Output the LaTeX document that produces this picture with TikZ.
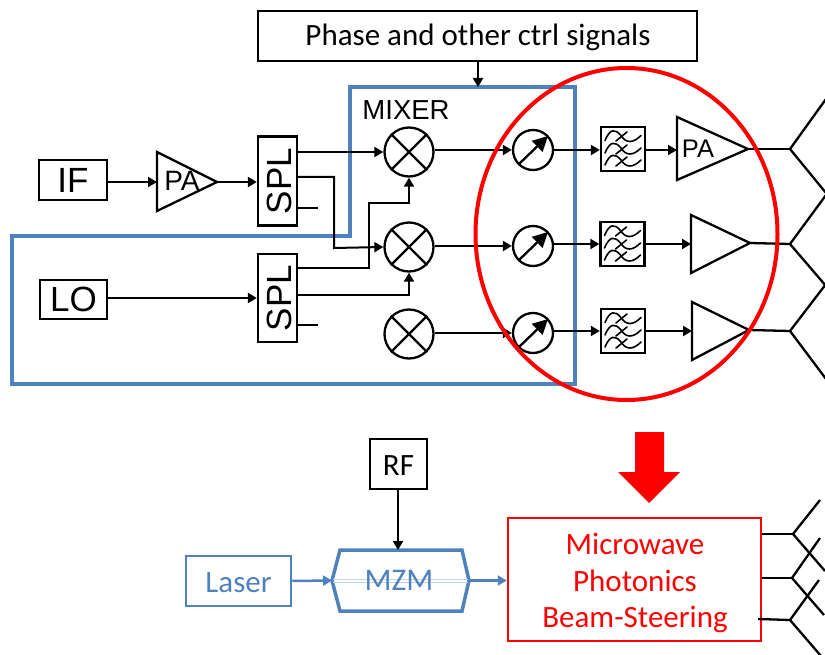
\documentclass[tikz,border=0pt]{standalone}
\usepackage{fontspec}
\setmainfont{Carlito}
\newfontfamily\arialf{Liberation Sans}
\usetikzlibrary{arrows.meta}
\definecolor{bl}{RGB}{79,129,189}
\definecolor{pale}{RGB}{190,210,232}
\newcommand{\fsz}[1]{\fontsize{#1}{#1}\selectfont}
\tikzset{x=1pt,y=-1pt,
 boxk/.style={draw=black,line width=2.3pt,inner sep=0pt,align=center},
 lab/.style={inner sep=0pt,align=center},
 blk/.style={draw=black,line width=2.3pt},
 thn/.style={draw=black,line width=2pt},
 arr/.style={thn,-{Triangle[length=9pt,width=10pt]}},
 barr/.style={draw=bl,line width=2.5pt,-{Triangle[length=9pt,width=10pt]}},
 mix/.style={circle,draw=black,line width=2.3pt,minimum size=49pt,inner sep=0pt},
 pha/.style={circle,draw=black,line width=2.3pt,minimum size=40pt,inner sep=0pt},
 filt/.style={draw=black,line width=2.3pt,minimum width=44pt,minimum height=44pt,inner sep=0pt},
 wave/.style={draw=black,line width=1.6pt,line cap=round},
}
\begin{document}
\begin{tikzpicture}
\useasboundingbox (0,0) rectangle (825,655);
\clip (0,0) rectangle (825,655);
% blue outline
\draw[draw=bl,line width=3.5pt,line join=miter] (350,87) -- (575,87) -- (575,384) -- (12,384) -- (12,236) -- (350,236) -- cycle;
% top box
\node[boxk,minimum width=439pt,minimum height=50pt] (ctrl) at (477.5,36) {};
\node[lab] (ctrll) at (478,37) {\fsz{31}Phase and other ctrl signals};
\coordinate (blue) at (478,87);
\draw[arr] (ctrl.south -| blue) -- (blue);
% inputs
\node[boxk,minimum width=68pt,minimum height=40pt] (if) at (73,180) {\arialf\fsz{35}IF};
\node[boxk,minimum width=67pt,minimum height=39pt] (lo) at (73.5,299.5) {\arialf\fsz{35}LO};
\node[boxk,minimum width=39pt,minimum height=89pt] (spa) at (277.5,181) {};
\node[boxk,minimum width=39pt,minimum height=88pt] (spb) at (277.5,298) {};
\node[lab] (spal) at (279,181) {\rotatebox{90}{\arialf\fsz{35}SPL}};
\node[lab] (spbl) at (279,298) {\rotatebox{90}{\arialf\fsz{35}SPL}};
\coordinate (pa0a) at (157,182);
\draw[blk,line join=miter] (157,152) -- (217,182) -- (157,211) -- cycle;
\node[lab] (pa0l) at (182,181) {\arialf\fsz{28}PA};
\coordinate (pa0b) at (217,182);
\draw[arr] (if.east |- pa0a) -- (pa0a);
\draw[arr] (pa0b) -- (spa.west |- pa0b);
\draw[arr] (lo.east |- spb) -- (spb.west);
% mixers
\node[mix] (ma) at (409,152) {};
\node[mix] (mb) at (409,247) {};
\node[mix] (mc) at (409,334) {};
\foreach \m in {ma,mb,mc}{
 \draw[blk] (\m.45) -- (\m.225);
 \draw[blk] (\m.135) -- (\m.315);
}
\node[lab] (mlab) at (406,110) {\arialf\fsz{27.5}MIXER};
% splitter outputs
\coordinate (sa1) at (297,152);
\coordinate (sa2) at (297,177);
\coordinate (sa3) at (297,208);
\coordinate (sa3e) at (318,208);
\coordinate (sb1) at (297,268);
\coordinate (sb2) at (297,295);
\coordinate (sb3) at (297,325);
\coordinate (sb3e) at (318,325);
\draw[arr] (sa1) -- (ma.west);
\draw[arr] (sa2) -- (334,177) -- (334,248) -- (mb.west);
\draw[thn] (sa3) -- (sa3e);
\draw[arr] (sb1) -- (369,268) -- (369,203) -- (409,203) -- (ma.south);
\draw[arr] (sb2) -- (409,295) -- (mb.south);
\draw[thn] (sb3) -- (sb3e);
% phase shifters
\node[pha] (pa) at (533,150) {};
\node[pha] (pb) at (533,246) {};
\node[pha] (pc) at (533,333) {};
\foreach \p in {pa,pb,pc}{
 \draw[draw=black,line width=2.3pt,-{Triangle[length=15pt,width=15pt]}] ([shift={(-14,14)}]\p.center) -- ([shift={(15,-14)}]\p.center);
}
\draw[arr] (ma.east |- pa.west) -- (pa.west);
\draw[arr] (mb.east |- pb.west) -- (pb.west);
\draw[arr] (mc.east |- pc.west) -- (pc.west);
% filters
\node[filt] (fa) at (623,149) {};
\node[filt] (fb) at (622.5,244) {};
\node[filt] (fc) at (623,331) {};
\foreach \f in {fa,fb,fc}{
 \foreach \dy in {-11.5,1,13}{
  \draw[wave,shift={(\f.center)},yshift=-\dy pt] (-18,3) .. controls (-13,-9) and (-8,-9) .. (-2,-2) .. controls (3,6) and (10,6) .. (18,-2);
 }
 \draw[wave,shift={(\f.center)}] (-7,-8) -- (4,-17);
 \draw[wave,shift={(\f.center)}] (-7,5) -- (4,-4);
 \draw[wave,shift={(\f.center)}] (-7,17) -- (4,8);
}
\draw[arr] (pa.east) -- (fa.west |- pa.east);
\draw[arr] (pb.east |- fb.west) -- (fb.west);
\draw[arr] (pc.east |- fc.west) -- (fc.west);
% PAs
\node[lab] (pal) at (698,149) {\arialf\fsz{25.5}PA};
\coordinate (a1i) at (677,150);
\coordinate (a1o) at (748,149);
\coordinate (a2i) at (691,244);
\coordinate (a2o) at (750,243);
\coordinate (a3i) at (692,331);
\coordinate (a3o) at (749,330);
\draw[blk,line join=miter] (677,117) -- (a1o) -- (677,180) -- cycle;
\draw[blk,line join=miter] (691,215) -- (a2o) -- (691,273) -- cycle;
\draw[blk,line join=miter] (692,302) -- (a3o) -- (692,360) -- cycle;
\draw[arr] (fa.east |- a1i) -- (a1i);
\draw[arr] (fb.east |- a2i) -- (a2i);
\draw[arr] (fc.east |- a3i) -- (a3i);
% antenna feeds
\coordinate (t1) at (790,149);
\coordinate (t2) at (790,244);
\coordinate (t3) at (790,331);
\draw[blk] (a1o) -- (t1);
\draw[blk] (a2o) -- (t2);
\draw[blk] (a3o) -- (t3);
\draw[blk] (826,99) -- (t1) -- (826,193);
\draw[blk] (826,195) -- (t2) -- (826,286);
\draw[blk] (826,284) -- (t3) -- (826,379);
% red ellipse
\draw[draw=red,line width=4pt] (626.5,234) ellipse (151 and 166);
% red block arrow
\fill[red] (635,432) -- (664,432) -- (664,472) -- (680,472) -- (649,503) -- (618,472) -- (635,472) -- cycle;
% lower part
\node[boxk,minimum width=57pt,minimum height=50pt] (rf) at (398.5,464) {};
\node[lab] (rfl) at (398.5,466) {\fsz{31}RF};
\node[draw=bl,line width=2.5pt,inner sep=0pt,minimum width=105pt,minimum height=50pt] (laser) at (238.5,581) {};
\node[lab,text=bl] (laserl) at (238.5,583) {\fsz{31}Laser};
\coordinate (zw) at (332,580.5);
\coordinate (ze) at (469,580.5);
\coordinate (zn) at (398,550);
\draw[draw=bl,line width=3.5pt,line join=miter] (340,550) -- (462,550) -- (ze) -- (462,611) -- (340,611) -- (zw) -- cycle;
\draw[draw=pale,line width=.8pt] (333,579) -- (468,579) (333,582) -- (468,582);
\node[lab,text=bl] (mzm) at (399,580) {\fsz{31.5}MZM};
\node[draw=red,line width=2.5pt,inner sep=0pt,minimum width=253pt,minimum height=123pt,text=red] (mw) at (634.5,579.5) {};
\node[lab,text=red] (w1) at (635,544) {\fsz{31}Microwave};
\node[lab,text=red] (w2) at (635,581) {\fsz{31}Photonics};
\node[lab,text=red] (w3) at (635,619) {\fsz{31}Beam-Steering};
\draw[arr] (rf.south -| zn) -- (zn);
\draw[barr] (laser.east) -- (zw);
\draw[barr] (ze) -- (mw.west |- ze);
% lower feeds
\coordinate (q1) at (793,534);
\coordinate (q2) at (792,578);
\coordinate (q3) at (790,620);
\draw[blk] (mw.east |- q1) -- (q1);
\draw[blk] (mw.east |- q2) -- (q2);
\draw[blk] (758,619) -- (q3);
\draw[blk] (820,500) -- (q1) -- (825,571);
\draw[blk] (820,538) -- (q2) -- (824,615);
\draw[blk] (819,580) -- (q3) -- (821,656);
\end{tikzpicture}
\end{document}
